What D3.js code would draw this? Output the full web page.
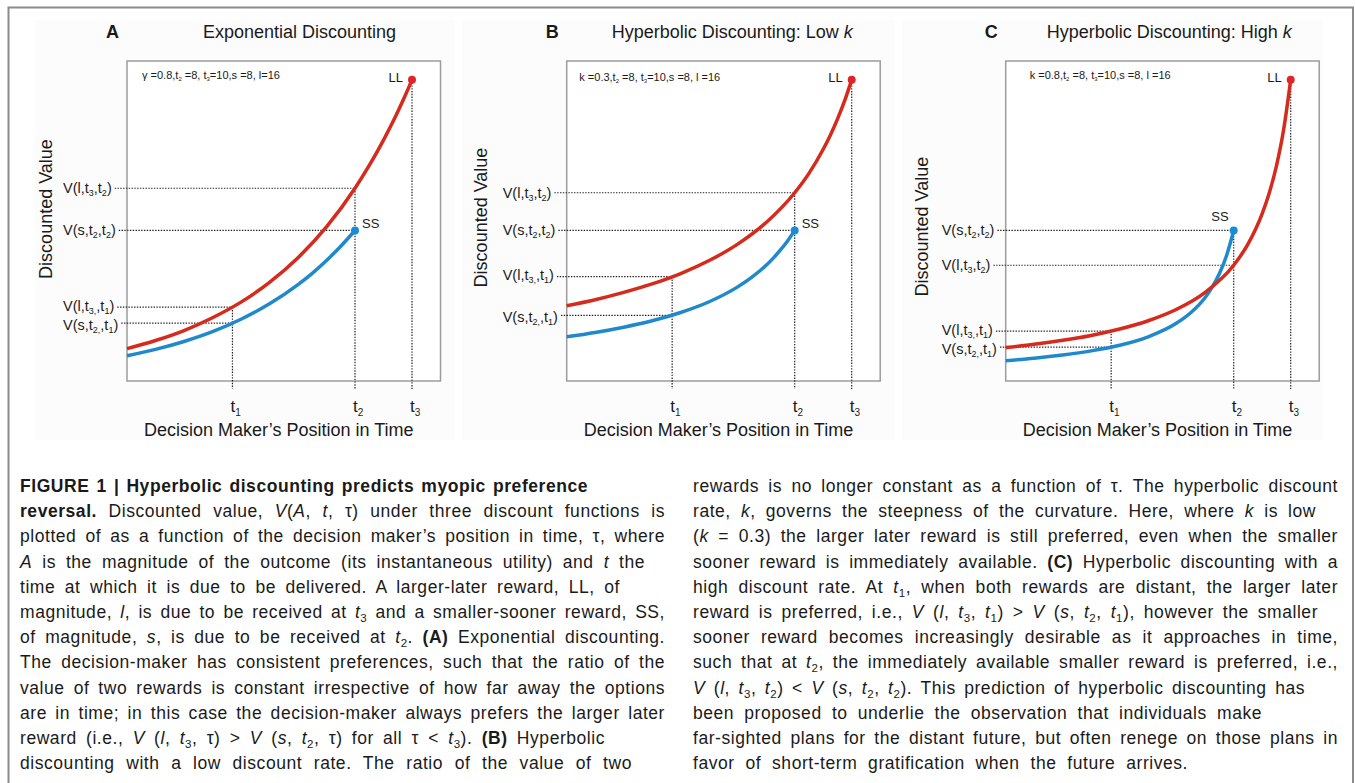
<!DOCTYPE html>
<html>
<head>
<meta charset="utf-8">
<script src="https://cdn.jsdelivr.net/npm/d3@7"></script>
<style>
  body { margin: 0; background: #fff; }
  svg text { font-family: "Liberation Sans", Arial, sans-serif; fill: #1a1a1a; }
  svg text.cap { font-family: "Liberation Sans Narrow", "Arial Narrow", "Liberation Sans", Arial, sans-serif; }
</style>
</head>
<body>
<div id="chart"></div>
<script>
// Decision maker's position in time (tau) where each curve was read
const TAU_LL = [0, 1, 2, 3, 4, 5, 6, 7, 8, 8.5, 9, 9.25, 9.5, 9.75, 10];
const TAU_SS = [0, 1, 2, 3, 4, 5, 6, 6.5, 7, 7.25, 7.5, 7.75, 8];

// Discounted value of the larger-later reward (LL) and smaller-sooner reward (SS)
const EXP_LL = [1.72, 2.15, 2.68, 3.36, 4.19, 5.24, 6.55, 8.19, 10.24, 11.45, 12.80, 13.53, 14.31, 15.13, 16.00];
const EXP_SS = [1.34, 1.68, 2.10, 2.62, 3.28, 4.10, 5.12, 5.72, 6.40, 6.77, 7.16, 7.57, 8.00];
const LOWK_LL = [4.00, 4.32, 4.71, 5.16, 5.71, 6.40, 7.27, 8.42, 10.00, 11.03, 12.31, 13.06, 13.91, 14.88, 16.00];
const LOWK_SS = [2.35, 2.58, 2.86, 3.20, 3.64, 4.21, 5.00, 5.52, 6.15, 6.53, 6.96, 7.44, 8.00];
const HIGHK_LL = [1.78, 1.95, 2.16, 2.42, 2.76, 3.20, 3.81, 4.71, 6.15, 7.27, 8.89, 10.00, 11.43, 13.33, 16.00];
const HIGHK_SS = [1.08, 1.21, 1.38, 1.60, 1.90, 2.35, 3.08, 3.64, 4.44, 5.00, 5.71, 6.67, 8.00];

// time marks t1, t2, t3
const T_MARKS = [3.7, 8, 10];
const T_NAMES = ['1', '2', '3'];

// values at the marks, per panel (A, B, C)
const LL_AT_T1 = [3.92, 5.54, 2.65];
const SS_AT_T1 = [3.07, 3.49, 1.80];
const LL_AT_T2 = [10.24, 10.00, 6.15];
const SS_AT_T2 = [8, 8, 8];
const LL_AT_T3 = [16, 16, 16];

const PANEL_LETTERS = ['A', 'B', 'C'];
const PANEL_TITLES = [
  [['Exponential Discounting', '']],
  [['Hyperbolic Discounting: Low ', ''], ['k', 'i']],
  [['Hyperbolic Discounting: High ', ''], ['k', 'i']]
];
const PANEL_PARAMS = [
  '\u03b3 =0.8,t_2 =8, t_3=10,s =8, l=16',
  'k =0.3,t_2 =8, t_3=10,s =8, l =16',
  'k =0.8,t_2 =8, t_3=10,s =8, l =16'
];
const PANEL_LL = [EXP_LL, LOWK_LL, HIGHK_LL];
const PANEL_SS = [EXP_SS, LOWK_SS, HIGHK_SS];

const CAPTION_LEFT = [
  '**FIGURE 1 | Hyperbolic discounting predicts myopic preference**',
  '**reversal.** Discounted value,  *V*(*A*, *t*, \u03c4) under three discount functions is',
  'plotted of as a function of the decision maker\u2019s position in time, \u03c4, where',
  '*A* is the magnitude of the outcome (its instantaneous utility) and *t* the',
  'time at which it is due to be delivered. A larger-later reward, LL, of',
  'magnitude, *l*, is due to be received at *t*_3 and a smaller-sooner reward, SS,',
  'of magnitude, *s*, is due to be received at *t*_2. **(A)** Exponential discounting.',
  'The decision-maker has consistent preferences, such that the ratio of the',
  'value of two rewards is constant irrespective of how far away the options',
  'are in time; in this case the decision-maker always prefers the larger later',
  'reward (i.e.,  *V* (*l*, *t*_3, \u03c4) > *V* (*s*, *t*_2, \u03c4) for all \u03c4 < *t*_3). **(B)** Hyperbolic',
  'discounting with a low discount rate. The ratio of the value of two'
];
const CAPTION_RIGHT = [
  'rewards is no longer constant as a function of \u03c4. The hyperbolic discount',
  'rate, *k*, governs the steepness of the curvature. Here, where *k* is low',
  '(*k*  =  0.3) the larger later reward is still preferred, even when the smaller',
  'sooner reward is immediately available. **(C)** Hyperbolic discounting with a',
  'high discount rate. At *t*_1, when both rewards are distant, the larger later',
  'reward is preferred, i.e.,  *V* (*l*, *t*_3, *t*_1) > *V* (*s*, *t*_2, *t*_1), however the smaller',
  'sooner reward becomes increasingly desirable as it approaches in time,',
  'such that at *t*_2, the immediately available smaller reward is preferred, i.e.,',
  '*V* (*l*, *t*_3, *t*_2) < *V* (*s*, *t*_2, *t*_2). This prediction of hyperbolic discounting has',
  'been proposed to underlie the observation that individuals make',
  'far-sighted plans for the distant future, but often renege on those plans in',
  'favor of short-term gratification when the future arrives.'
];
const CAPTION_LEFT_END = [588, 665, 665, 645, 620, 665, 665, 665, 665, 665, 605, 632];
const CAPTION_RIGHT_END = [1338, 1316, 1338, 1338, 1338, 1318, 1338, 1338, 1305, 1262, 1338, 1188];

// layout
const W = 1355, H = 783;
const BOX_X = [127, 566.7, 1005.7];
const BOX_W = 313.5;
const BOX_TOP = 61, BOX_BOTTOM = 381;
const TITLE_DX = [76, 45, 41];
const YTITLE_DX = [-75.5, -80, -77.7];
const YTITLE_CY = [209, 217.5, 226.7];
const PARAM_DX = [15, 12.6, 24];
const PARAM_Y = [79, 81, 79];
const BG_X = [[35, 455], [462, 895], [902, 1323]];

const RED = '#d52a1c';
const BLUE = '#2089cc';

const svg = d3.select('#chart').append('svg')
  .attr('width', W)
  .attr('height', H)
  .attr('viewBox', [0, 0, W, H]);

// faint background behind each panel image
svg.selectAll('rect.bg')
  .data(BG_X)
  .join('rect')
  .attr('class', 'bg')
  .attr('x', d => d[0])
  .attr('y', 20)
  .attr('width', d => d[1] - d[0])
  .attr('height', 420)
  .attr('fill', '#fcfcfc');

// outer frame (open at the bottom)
svg.append('path')
  .attr('d', `M8.5,${H} V7.5 H1353 V${H}`)
  .attr('fill', 'none')
  .attr('stroke', '#8a8a8a')
  .attr('stroke-width', 2);

// parse a tiny markup: **bold**, *italic*, _x subscript
function parseMarkup(str) {
  const segs = [];
  let bold = false, ital = false, buf = '';
  const flush = () => { if (buf) segs.push({ t: buf, b: bold, i: ital, sub: false }); buf = ''; };
  for (let k = 0; k < str.length; k++) {
    if (str[k] === '*' && str[k + 1] === '*') { flush(); bold = !bold; k++; }
    else if (str[k] === '*') { flush(); ital = !ital; }
    else if (str[k] === '_') { flush(); segs.push({ t: str[k + 1], b: bold, i: false, sub: true }); k++; }
    else buf += str[k];
  }
  flush();
  return segs;
}

function richText(sel, segs, size, subSize, subDy) {
  let shift = 0;
  segs.forEach(s => {
    const target = s.sub ? subDy : 0;
    sel.append('tspan')
      .attr('dy', target - shift)
      .attr('font-size', s.sub ? subSize : size)
      .attr('font-weight', s.b ? 'bold' : null)
      .attr('font-style', s.i ? 'italic' : null)
      .text(s.t);
    shift = target;
  });
}

const y = d3.scaleLinear().domain([0, 17]).range([BOX_BOTTOM, BOX_TOP]);

PANEL_LETTERS.forEach((letter, p) => {
  const x0 = BOX_X[p];
  const x = d3.scaleLinear().domain([0, 11]).range([x0, x0 + BOX_W]);
  const g = svg.append('g');

  // panel letter and title
  g.append('text')
    .attr('x', x0 - 21)
    .attr('y', 38)
    .attr('font-size', 18)
    .attr('font-weight', 'bold')
    .text(letter);

  const title = g.append('text')
    .attr('x', x0 + TITLE_DX[p])
    .attr('y', 38)
    .attr('font-size', 18);
  PANEL_TITLES[p].forEach(([t, st]) => {
    title.append('tspan').attr('font-style', st === 'i' ? 'italic' : null).text(t);
  });

  // plot box
  g.append('rect')
    .attr('x', x0)
    .attr('y', BOX_TOP)
    .attr('width', BOX_W)
    .attr('height', BOX_BOTTOM - BOX_TOP)
    .attr('fill', '#fff')
    .attr('stroke', '#9c9c9c')
    .attr('stroke-width', 1.5);

  // parameters
  const params = g.append('text')
    .attr('x', x0 + PARAM_DX[p])
    .attr('y', PARAM_Y[p]);
  richText(params, parseMarkup(PANEL_PARAMS[p]), 11, 6, 2);

  // axis titles
  g.append('text')
    .attr('transform', `translate(${x0 + YTITLE_DX[p]},${YTITLE_CY[p]}) rotate(-90)`)
    .attr('text-anchor', 'middle')
    .attr('font-size', 18)
    .text('Discounted Value');

  g.append('text')
    .attr('x', x0 + BOX_W / 2 - 5)
    .attr('y', 436)
    .attr('text-anchor', 'middle')
    .attr('font-size', 18)
    .text('Decision Maker\u2019s Position in Time');

  // dotted guides
  const levels = [
    { v: LL_AT_T2[p], t: T_MARKS[1], lab: 'V(l,t_3,t_2)' },
    { v: SS_AT_T2[p], t: T_MARKS[1], lab: 'V(s,t_2,t_2)' },
    { v: LL_AT_T1[p], t: T_MARKS[0], lab: 'V(l,t_3_,,t_1)' },
    { v: SS_AT_T1[p], t: T_MARKS[0], lab: 'V(s,t_2_,,t_1)' }
  ];
  // the two t1 labels sit close together, nudge them apart a little
  const nudge = [0, 0, -1.5, 1.5];

  const guides = g.append('g')
    .attr('stroke', '#222')
    .attr('stroke-width', 1.2)
    .attr('stroke-dasharray', '1.4,1.4')
    .attr('fill', 'none');

  levels.forEach((d, i) => {
    const lab = g.append('text')
      .attr('x', x0 - 64)
      .attr('y', y(d.v) + 5 + nudge[i]);
    richText(lab, parseMarkup(d.lab), 14.5, 9, 3);
    const wLab = lab.node().getComputedTextLength();
    guides.append('line')
      .attr('x1', x0 - 64 + wLab + 3)
      .attr('x2', x(d.t))
      .attr('y1', y(d.v))
      .attr('y2', y(d.v));
  });

  const tops = [
    Math.max(LL_AT_T1[p], SS_AT_T1[p]),
    Math.max(LL_AT_T2[p], SS_AT_T2[p]),
    LL_AT_T3[p]
  ];
  T_MARKS.forEach((t, i) => {
    guides.append('line')
      .attr('x1', x(t)).attr('x2', x(t))
      .attr('y1', y(tops[i]))
      .attr('y2', BOX_BOTTOM + 8);
    const tl = g.append('text')
      .attr('x', x(t) - 2)
      .attr('y', 412);
    tl.append('tspan').attr('font-size', 17).text('t');
    tl.append('tspan').attr('font-size', 10).attr('dy', 4).text(T_NAMES[i]);
  });

  // curves
  const line = d3.line()
    .x(d => x(d[0]))
    .y(d => y(d[1]))
    .curve(d3.curveMonotoneX);

  g.append('path')
    .datum(TAU_SS.map((t, i) => [t, PANEL_SS[p][i]]))
    .attr('d', line)
    .attr('fill', 'none')
    .attr('stroke', BLUE)
    .attr('stroke-width', 3.5);

  g.append('path')
    .datum(TAU_LL.map((t, i) => [t, PANEL_LL[p][i]]))
    .attr('d', line)
    .attr('fill', 'none')
    .attr('stroke', RED)
    .attr('stroke-width', 3.5);

  // end points
  const llx = x(T_MARKS[2]), lly = y(LL_AT_T3[p]);
  const ssx = x(T_MARKS[1]), ssy = y(SS_AT_T2[p]);
  g.append('circle').attr('cx', llx).attr('cy', lly).attr('r', 4).attr('fill', '#e0252a');
  g.append('circle').attr('cx', ssx).attr('cy', ssy).attr('r', 4).attr('fill', '#1a8cd6');

  g.append('text')
    .attr('x', llx - 9)
    .attr('y', lly + 2)
    .attr('text-anchor', 'end')
    .attr('font-size', 13)
    .text('LL');

  if (p < 2) {
    g.append('text')
      .attr('x', ssx + 7)
      .attr('y', ssy - 2)
      .attr('font-size', 13)
      .text('SS');
  } else {
    g.append('text')
      .attr('x', ssx - 5)
      .attr('y', ssy - 9)
      .attr('text-anchor', 'end')
      .attr('font-size', 13)
      .text('SS');
  }
});

// caption in two columns, justified by widening the word gaps
function caption(lines, ends, x0) {
  lines.forEach((ln, i) => {
    const t = svg.append('text')
      .attr('class', 'cap')
      .attr('x', x0)
      .attr('y', 492 + i * 25.2)
      .attr('font-size', 17.5)
      .attr('letter-spacing', 0.55);
    richText(t, parseMarkup(ln), 17.5, 11.5, 4);
    const target = ends[i] - x0;
    const natural = t.node().getComputedTextLength();
    const gaps = (ln.match(/ +/g) || []).length;
    if (natural < target && gaps > 0) {
      t.attr('word-spacing', (target - natural) / gaps);
    } else if (natural > target) {
      t.attr('textLength', target).attr('lengthAdjust', 'spacingAndGlyphs');
    }
  });
}
caption(CAPTION_LEFT, CAPTION_LEFT_END, 20);
caption(CAPTION_RIGHT, CAPTION_RIGHT_END, 693);
</script>
</body>
</html>
